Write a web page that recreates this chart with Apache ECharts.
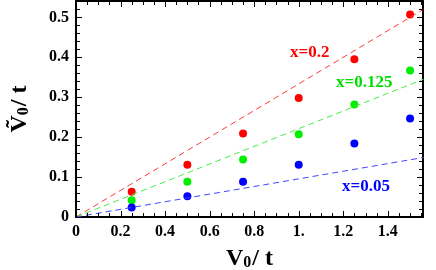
<!DOCTYPE html>
<html><head><meta charset="utf-8">
<script src="https://cdn.jsdelivr.net/npm/echarts@6/dist/echarts.min.js"></script>
<style>html,body{margin:0;padding:0;background:#fff}#c{width:436px;height:270px}</style>
</head><body><div id="c"></div>
<script>
var xVals = [0.25, 0.5, 0.75, 1.0, 1.25, 1.5];
var redY = [0.063, 0.131, 0.209, 0.298, 0.395, 0.507];
var greenY = [0.042, 0.088, 0.144, 0.207, 0.282, 0.367];
var blueY = [0.024, 0.052, 0.088, 0.131, 0.184, 0.247];
var redLine = [[0, 0], [1.56, 0.52]];
var greenLine = [[0, 0], [1.56, 0.345]];
var blueLine = [[0, 0], [1.56, 0.149]];
var xTicks = ['0', '0.2', '0.4', '0.6', '0.8', '1.', '1.2', '1.4'];
var yTicks = ['0', '0.1', '0.2', '0.3', '0.4', '0.5'];
var labels = ['x=0.2', 'x=0.125', 'x=0.05'];

var XMAX = 1.558, YMAX = 0.541;
var X_MINOR = 0.05, Y_MINOR = 0.02;
var font = 'Liberation Serif';
function pts(ys){ return xVals.map(function(x,i){ return [x, ys[i]]; }); }
function fmtX(v){ var i = Math.round(v/0.2); return (Math.abs(v - i*0.2) < 1e-6 && i < xTicks.length) ? xTicks[i] : ''; }
function fmtY(v){ var i = Math.round(v/0.1); return (Math.abs(v - i*0.1) < 1e-6 && i < yTicks.length) ? yTicks[i] : ''; }

// tick marks on all four sides (major at labelled values, minor in between)
function tickData(){
  var d = [], k, v, maj;
  var xMaj = xTicks.map(parseFloat), yMaj = yTicks.map(parseFloat);
  for (k = 0; k * X_MINOR <= XMAX + 1e-9; k++) {
    v = +(k * X_MINOR).toFixed(4);
    maj = xMaj.some(function(m){ return Math.abs(m - v) < 1e-6; }) ? 1 : 0;
    d.push([v, 0, maj, 0]); d.push([v, 0, maj, 1]);
  }
  for (k = 0; k * Y_MINOR <= YMAX + 1e-9; k++) {
    v = +(k * Y_MINOR).toFixed(4);
    maj = yMaj.some(function(m){ return Math.abs(m - v) < 1e-6; }) ? 1 : 0;
    d.push([0, v, maj, 2]); d.push([0, v, maj, 3]);
  }
  return d;
}
function renderTick(params, api){
  var maj = api.value(2), side = api.value(3), L = maj ? 6 : 4, p, x, y;
  if (side === 0 || side === 1) {
    p = api.coord([api.value(0), side === 0 ? 0 : YMAX]);
    x = Math.round(p[0]) + 0.5;
    return {type: 'line', shape: {x1: x, y1: p[1], x2: x, y2: side === 0 ? p[1] - L : p[1] + L},
      style: {stroke: '#000', lineWidth: 1}};
  }
  p = api.coord([side === 2 ? 0 : XMAX, api.value(1)]);
  y = Math.round(p[1]) + 0.5;
  return {type: 'line', shape: {x1: p[0], y1: y, x2: side === 2 ? p[0] + L : p[0] - L, y2: y},
    style: {stroke: '#000', lineWidth: 1}};
}

function ax(extra){
  return Object.assign({
    axisLine: {show: true, onZero: false, lineStyle: {color: '#000', width: 2}},
    axisTick: {show: false},
    minorTick: {show: false},
    splitLine: {show: false}
  }, extra);
}
var nameRich = {
  a: {fontFamily: font, fontWeight: 'bold', fontSize: 24, color: '#000'},
  s: {fontFamily: font, fontWeight: 'bold', fontSize: 16, color: '#000', padding: [8, 1, 0, 0]}
};
function ann(text, color, left, top){
  return {text: text, left: left, top: top, padding: 0,
    textStyle: {color: color, fontFamily: font, fontWeight: 'bold', fontSize: 17}};
}

var chart = echarts.init(document.getElementById('c'));
chart.setOption({
  animation: false,
  title: [
    ann(labels[0], '#ff0000', 290, 44),
    ann(labels[1], '#00dd00', 336, 74),
    ann(labels[2], '#0000ff', 342, 178)
  ],
  grid: {left: 76, right: 13, top: 1, bottom: 53, outerBoundsMode: 'none'},
  xAxis: [
    ax({type: 'value', min: 0, max: XMAX, interval: 0.2, position: 'bottom',
      axisLabel: {formatter: fmtX, color: '#000', fontFamily: font, fontWeight: 'bold', fontSize: 16, margin: 7},
      name: '{a|V}{s|0}{a|/ t}', nameLocation: 'middle', nameGap: 30,
      nameTextStyle: {rich: nameRich}}),
    ax({type: 'value', min: 0, max: XMAX, interval: 0.2, position: 'top', axisLabel: {show: false}})
  ],
  yAxis: [
    ax({type: 'value', min: 0, max: YMAX, interval: 0.1, position: 'left',
      axisLabel: {formatter: fmtY, color: '#000', fontFamily: font, fontWeight: 'bold', fontSize: 16, margin: 7},
      name: '{a|Ṽ}{s|0}{a|/ t}', nameLocation: 'middle', nameGap: 44, nameRotate: 90,
      nameTextStyle: {rich: nameRich}}),
    ax({type: 'value', min: 0, max: YMAX, interval: 0.1, position: 'right', axisLabel: {show: false}})
  ],
  series: [
    {type: 'custom', data: tickData(), renderItem: renderTick, clip: false, silent: true, z: 5},
    {type: 'line', data: redLine, symbol: 'none', lineStyle: {color: '#ff3b3b', width: 1, type: [6, 4]}},
    {type: 'line', data: greenLine, symbol: 'none', lineStyle: {color: '#44ee44', width: 1, type: [6, 4]}},
    {type: 'line', data: blueLine, symbol: 'none', lineStyle: {color: '#4444ff', width: 1, type: [6, 4]}},
    {type: 'scatter', data: pts(redY), symbolSize: 8, itemStyle: {color: '#ff0000', opacity: 1}},
    {type: 'scatter', data: pts(greenY), symbolSize: 8, itemStyle: {color: '#00ee00', opacity: 1}},
    {type: 'scatter', data: pts(blueY), symbolSize: 8, itemStyle: {color: '#0000ff', opacity: 1}}
  ]
});
</script></body></html>
